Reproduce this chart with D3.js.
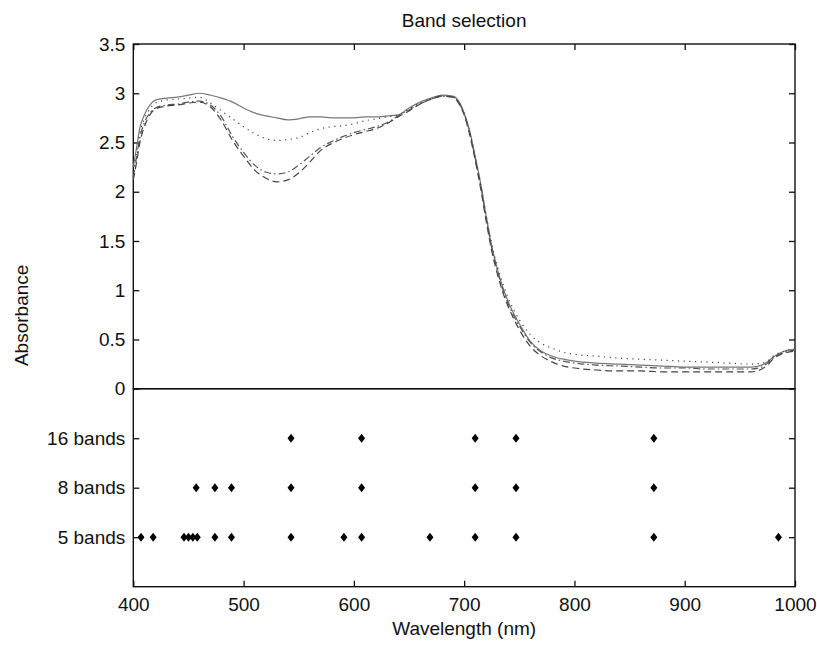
<!DOCTYPE html>
<html>
<head>
<meta charset="utf-8">
<title>Band selection</title>
<script type="text/javascript" src="https://cdn.jsdelivr.net/npm/d3@7"></script>
<style>
body { margin:0; background:#fff; }
svg text { font-family:"Liberation Sans",Arial,sans-serif; fill:#111; }
</style>
</head>
<body>
<div id="chart"></div>

<script>
// wavelength grid of the spectra (nm)
var wl = [400,403,406,410,415,420,430,440,450,460,470,480,490,500,510,520,530,540,550,560,
	570,580,590,600,610,620,630,640,650,660,670,680,690,695,700,705,710,715,720,725,
	730,735,740,745,750,760,770,780,790,800,820,840,860,880,900,920,940,960,970,975,
	980,990,1000];

// absorbance of the four spectra
var specSolid = [2.25,2.45,2.65,2.78,2.88,2.93,2.95,2.96,2.98,3.00,2.98,2.95,2.91,2.85,2.80,2.77,2.75,2.73,2.74,2.76,
	2.76,2.75,2.75,2.75,2.76,2.76,2.77,2.78,2.85,2.91,2.95,2.98,2.97,2.92,2.80,2.62,2.36,2.08,1.75,1.45,
	1.22,1.03,0.88,0.76,0.66,0.48,0.38,0.33,0.30,0.28,0.26,0.25,0.24,0.23,0.22,0.22,0.22,0.22,0.24,0.27,
	0.32,0.38,0.40];
var specDot = [2.20,2.40,2.60,2.74,2.84,2.90,2.93,2.94,2.95,2.96,2.90,2.82,2.74,2.66,2.59,2.54,2.52,2.53,2.55,2.60,
	2.64,2.66,2.67,2.69,2.72,2.74,2.76,2.78,2.84,2.90,2.94,2.97,2.96,2.91,2.79,2.61,2.35,2.08,1.76,1.47,
	1.25,1.07,0.92,0.80,0.70,0.55,0.46,0.41,0.37,0.35,0.33,0.31,0.30,0.29,0.28,0.27,0.26,0.25,0.26,0.28,
	0.33,0.38,0.41];
var specDashDot = [2.15,2.35,2.55,2.70,2.80,2.85,2.88,2.89,2.91,2.92,2.88,2.76,2.56,2.40,2.27,2.20,2.18,2.20,2.27,2.36,
	2.45,2.51,2.56,2.60,2.63,2.66,2.70,2.77,2.83,2.89,2.94,2.97,2.96,2.91,2.79,2.60,2.34,2.06,1.73,1.43,
	1.20,1.01,0.86,0.74,0.64,0.47,0.37,0.31,0.28,0.26,0.24,0.23,0.22,0.21,0.21,0.20,0.20,0.20,0.22,0.26,
	0.31,0.37,0.39];
var specDash = [2.12,2.30,2.50,2.66,2.78,2.84,2.87,2.88,2.90,2.91,2.86,2.72,2.52,2.36,2.22,2.14,2.10,2.12,2.19,2.30,
	2.42,2.49,2.54,2.58,2.61,2.64,2.69,2.76,2.82,2.89,2.94,2.97,2.96,2.90,2.78,2.58,2.32,2.03,1.70,1.40,
	1.17,0.98,0.83,0.71,0.60,0.43,0.33,0.27,0.23,0.21,0.19,0.18,0.18,0.17,0.17,0.17,0.17,0.17,0.20,0.24,
	0.30,0.36,0.38];

// selected bands, one row each
var rowLabels = ["5 bands","8 bands","16 bands"];
var bands5 = [407,418,446,450,454,458,474,489,543,591,607,669,710,747,872,985];
var bands8 = [457,474,489,543,607,710,747,872];
var bands16 = [543,607,710,747,872];

var xTicks = [400,500,600,700,800,900,1000];
var yTicks = [0,0.5,1,1.5,2,2.5,3,3.5];

var W = 817, H = 645;
var L = 133.3, R = 795, T = 44, MID = 388.7, B = 586.7;

var svg = d3.select("#chart").append("svg")
	.attr("width", W).attr("height", H);

var x = d3.scaleLinear().domain([400,1000]).range([L,R]);
var yTop = d3.scaleLinear().domain([0,3.5]).range([MID,T]);
var yBot = d3.scaleLinear().domain([0,4]).range([B,MID]);

var fs = 19;

// ticks, all pointing inwards
svg.append("g").attr("transform","translate("+L+",0)")
	.call(d3.axisLeft(yTop).tickValues(yTicks).tickSize(-6).tickPadding(8).tickFormat(d3.format("")));
svg.append("g").attr("transform","translate("+R+",0)")
	.call(d3.axisRight(yTop).tickValues(yTicks).tickSize(-6).tickFormat(""));
svg.append("g").attr("transform","translate(0,"+T+")")
	.call(d3.axisTop(x).tickValues(xTicks).tickSize(-6).tickFormat(""));

svg.append("g").attr("transform","translate("+L+",0)")
	.call(d3.axisLeft(yBot).tickValues([1,2,3]).tickSize(-6).tickPadding(8)
		.tickFormat(function(d){ return rowLabels[d-1]; }));
svg.append("g").attr("transform","translate("+R+",0)")
	.call(d3.axisRight(yBot).tickValues([1,2,3]).tickSize(-6).tickFormat(""));
svg.append("g").attr("transform","translate(0,"+B+")")
	.call(d3.axisBottom(x).tickValues(xTicks).tickSize(-6).tickPadding(11).tickFormat(d3.format("d")));

svg.selectAll(".domain").remove();
svg.selectAll(".tick line").attr("stroke","#111").attr("stroke-width",1.3);
svg.selectAll(".tick text").attr("font-size",fs).attr("fill","#111");

// boxes
svg.append("rect").attr("x",L).attr("y",T).attr("width",R-L).attr("height",MID-T)
	.attr("fill","none").attr("stroke","#111").attr("stroke-width",1.4);
svg.append("rect").attr("x",L).attr("y",MID).attr("width",R-L).attr("height",B-MID)
	.attr("fill","none").attr("stroke","#111").attr("stroke-width",1.4);

// spectra
var series = [
	{v:specSolid, dash:null, col:"#777"},
	{v:specDot, dash:"1.2,4.5", col:"#444"},
	{v:specDashDot, dash:"7,3,1.5,3", col:"#555"},
	{v:specDash, dash:"7,4", col:"#444"}
];
var line = d3.line()
	.x(function(d){ return x(d[0]); })
	.y(function(d){ return yTop(d[1]); })
	.curve(d3.curveMonotoneX);

svg.selectAll("path.spec").data(series).enter().append("path")
	.attr("class","spec")
	.attr("d", function(s){ return line(d3.zip(wl, s.v)); })
	.attr("fill","none")
	.attr("stroke", function(s){ return s.col; })
	.attr("stroke-width",1.2)
	.attr("stroke-dasharray", function(s){ return s.dash; });

// band markers
var pts = [];
[bands5, bands8, bands16].forEach(function(arr, i){
	arr.forEach(function(b){ pts.push({w:b, row:i+1}); });
});
svg.selectAll("path.band").data(pts).enter().append("path")
	.attr("class","band")
	.attr("d","M0,-4.5L3.5,0L0,4.5L-3.5,0Z")
	.attr("transform", function(d){ return "translate("+x(d.w)+","+yBot(d.row)+")"; })
	.attr("fill","#000");

// labels
svg.append("text").attr("x",(L+R)/2).attr("y",27).attr("text-anchor","middle")
	.attr("font-size",fs).text("Band selection");
svg.append("text").attr("x",(L+R)/2).attr("y",635).attr("text-anchor","middle")
	.attr("font-size",fs).text("Wavelength (nm)");
svg.append("text").attr("transform","translate(28,"+((T+B)/2)+") rotate(-90)")
	.attr("text-anchor","middle").attr("font-size",fs).text("Absorbance");
</script>
</body>
</html>
